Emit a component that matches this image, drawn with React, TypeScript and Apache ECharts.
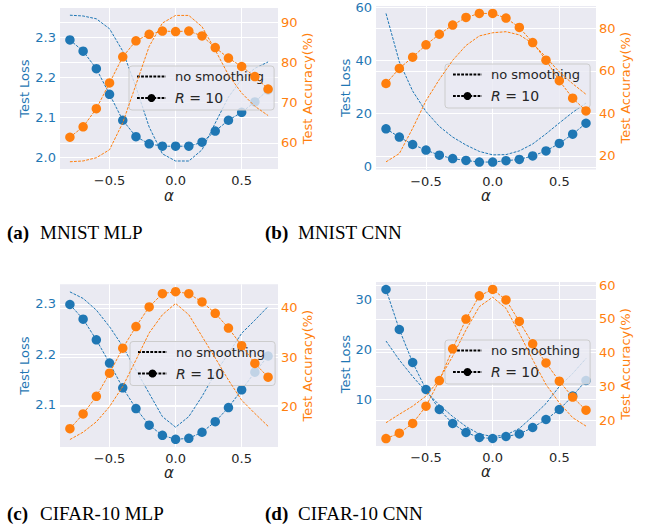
import React, { useEffect, useRef } from 'react';
import * as echarts from 'echarts';

// ---------- data ----------
const alphas = [-0.8, -0.7, -0.6, -0.5, -0.4, -0.3, -0.2, -0.1, 0.0, 0.1, 0.2, 0.3, 0.4, 0.5, 0.6, 0.7];
const xTicks = [-0.5, 0.0, 0.5];

// (a) MNIST MLP
const mnistMlpLossRaw = [2.355, 2.353, 2.346, 2.321, 2.265, 2.175, 2.075, 2.008, 1.99, 1.99, 2.018, 2.085, 2.15, 2.195, 2.222, 2.238];
const mnistMlpLossR10 = [2.293, 2.265, 2.221, 2.157, 2.092, 2.051, 2.033, 2.027, 2.027, 2.027, 2.037, 2.065, 2.092, 2.112, 2.138, 2.168];
const mnistMlpAccRaw = [55.3, 55.5, 56.3, 58.3, 65.0, 74.5, 84.0, 89.8, 91.7, 91.7, 88.9, 83.1, 76.9, 72.4, 69.1, 66.8];
const mnistMlpAccR10 = [61.4, 64.0, 68.5, 74.9, 81.4, 85.4, 87.0, 87.8, 87.7, 87.8, 86.6, 83.7, 81.1, 79.0, 76.5, 73.4];
const mnistMlpLossTicks = [2.0, 2.1, 2.2, 2.3];
const mnistMlpAccTicks = [60, 70, 80, 90];

// (b) MNIST CNN
const mnistCnnLossRaw = [57.7, 39.5, 28.5, 20.8, 15.2, 11.2, 8.2, 5.8, 4.5, 4.6, 6.0, 8.6, 12.4, 16.5, 20.5, 24.0];
const mnistCnnLossR10 = [14.3, 11.2, 8.4, 6.3, 4.4, 3.1, 2.4, 1.8, 1.8, 2.3, 2.8, 4.1, 6.0, 8.8, 12.3, 16.4];
const mnistCnnAccRaw = [17.2, 21.1, 33.0, 46.0, 56.0, 65.0, 72.0, 76.5, 78.0, 78.5, 77.0, 73.0, 66.5, 59.5, 54.0, 49.0];
const mnistCnnAccR10 = [54.1, 61.2, 66.5, 72.3, 77.3, 81.6, 85.2, 87.1, 87.1, 84.9, 80.5, 73.4, 65.1, 55.4, 47.2, 41.2];
const mnistCnnLossTicks = [0, 20, 40, 60];
const mnistCnnAccTicks = [20, 40, 60, 80];

// (c) CIFAR-10 MLP
const cifarMlpLossRaw = [2.324, 2.311, 2.288, 2.255, 2.216, 2.169, 2.123, 2.077, 2.056, 2.077, 2.117, 2.163, 2.202, 2.242, 2.268, 2.295];
const cifarMlpLossR10 = [2.299, 2.27, 2.229, 2.183, 2.134, 2.093, 2.06, 2.04, 2.032, 2.034, 2.046, 2.067, 2.095, 2.13, 2.165, 2.197];
const cifarMlpAccRaw = [13.2, 14.7, 16.8, 19.9, 24.0, 29.4, 34.9, 38.6, 40.9, 38.6, 34.2, 29.8, 25.3, 21.2, 18.5, 15.9];
const cifarMlpAccR10 = [15.4, 18.4, 22.0, 26.7, 31.8, 36.2, 40.2, 42.9, 43.3, 42.9, 41.2, 38.9, 35.9, 32.3, 28.7, 25.9];
const cifarMlpLossTicks = [2.1, 2.2, 2.3];
const cifarMlpAccTicks = [20, 30, 40];

// (d) CIFAR-10 CNN
const cifarCnnLossRaw = [21.6, 17.8, 14.5, 11.5, 8.8, 6.5, 4.5, 3.0, 2.5, 2.8, 4.1, 6.5, 9.1, 12.5, 15.1, 18.1];
const cifarCnnLossR10 = [31.9, 23.9, 17.3, 11.9, 7.9, 5.1, 3.3, 2.3, 2.1, 2.5, 3.0, 4.3, 5.9, 7.9, 10.6, 13.7];
const cifarCnnAccRaw = [19.2, 21.7, 24.1, 27.1, 32.0, 38.9, 46.7, 53.6, 56.4, 53.1, 45.7, 37.9, 30.5, 25.1, 20.7, 18.2];
const cifarCnnAccR10 = [14.5, 16.1, 19.0, 24.1, 31.7, 41.1, 49.9, 56.8, 58.7, 55.6, 49.2, 42.6, 36.9, 31.5, 26.8, 22.9];
const cifarCnnLossTicks = [10, 20, 30];
const cifarCnnAccTicks = [20, 30, 40, 50, 60];

const legendNames = ['no smoothing', 'R = 10'];
const captionTags = ['(a)', '(b)', '(c)', '(d)'];
const captionTitles = ['MNIST MLP', 'MNIST CNN', 'CIFAR-10 MLP', 'CIFAR-10 CNN'];

// ---------- styling / layout ----------
const BLUE = '#1f77b4';
const ORANGE = '#ff7f0e';
const DARK = '#262626';
const FONT = 'DejaVu Sans';
const SERIF = 'Liberation Serif';
const DASH = [2.8, 1.3];

const panels = [
  {
    lossRaw: mnistMlpLossRaw, lossR10: mnistMlpLossR10, accRaw: mnistMlpAccRaw, accR10: mnistMlpAccR10,
    lossTicks: mnistMlpLossTicks, accTicks: mnistMlpAccTicks, lossDec: 1,
    grid: { left: 60, top: 8, width: 218, height: 161 },
    lossRange: [1.970, 2.373], accRange: [53.5, 93.55],
    lossGap: 28, accGap: 22, xGap: 19,
    legend: { left: 129, top: 66 },
  },
  {
    lossRaw: mnistCnnLossRaw, lossR10: mnistCnnLossR10, accRaw: mnistCnnAccRaw, accR10: mnistCnnAccR10,
    lossTicks: mnistCnnLossTicks, accTicks: mnistCnnAccTicks, lossDec: 0,
    grid: { left: 376, top: 6, width: 220, height: 163.5 },
    lossRange: [-1.0, 60.5], accRange: [13.6, 90.6],
    lossGap: 24, accGap: 22, xGap: 18,
    legend: { left: 445, top: 64 },
  },
  {
    lossRaw: cifarMlpLossRaw, lossR10: cifarMlpLossR10, accRaw: cifarMlpAccRaw, accR10: cifarMlpAccR10,
    lossTicks: cifarMlpLossTicks, accTicks: cifarMlpAccTicks, lossDec: 1,
    grid: { left: 60, top: 284.3, width: 218, height: 162.6 },
    lossRange: [2.017, 2.339], accRange: [11.7, 44.8],
    lossGap: 28, accGap: 21, xGap: 17,
    legend: { left: 130, top: 341.5 },
  },
  {
    lossRaw: cifarCnnLossRaw, lossR10: cifarCnnLossR10, accRaw: cifarCnnAccRaw, accR10: cifarCnnAccR10,
    lossTicks: cifarCnnLossTicks, accTicks: cifarCnnAccTicks, lossDec: 0,
    grid: { left: 376, top: 282, width: 220, height: 164 },
    lossRange: [0.6, 33.4], accRange: [12.3, 60.9],
    lossGap: 24, accGap: 22, xGap: 16,
    legend: { left: 445, top: 340 },
  },
];

const captionPos = [
  { x: 7, y: 232.5 },
  { x: 265, y: 232.5 },
  { x: 7, y: 513 },
  { x: 265, y: 513 },
];

const fmtX = (v: number) => (v < 0 ? '\u2212' : '') + Math.abs(v).toFixed(1);
const pairs = (ys: number[]) => alphas.map((a, i) => [a, ys[i]]);

function buildOption() {
  const grid: any[] = [];
  const xAxis: any[] = [];
  const yAxis: any[] = [];
  const series: any[] = [];
  const legend: any[] = [];
  const graphic: any[] = [];

  // legend-only series (black samples)
  series.push({
    type: 'line', name: legendNames[0], xAxisIndex: 0, yAxisIndex: 0, data: [],
    symbol: 'none', color: '#000', lineStyle: { color: '#000', width: 1, type: DASH },
  });
  series.push({
    type: 'line', name: legendNames[1], xAxisIndex: 0, yAxisIndex: 0, data: [],
    symbol: 'circle', symbolSize: 8, color: '#000', itemStyle: { color: '#000' },
    lineStyle: { color: '#000', width: 1, type: DASH },
  });

  panels.forEach((p, i) => {
    grid.push({ ...p.grid, show: true, backgroundColor: '#EAEAF2', borderWidth: 0, containLabel: false });
    xAxis.push({
      type: 'value', gridIndex: i, min: -0.875, max: 0.775,
      name: '\u03b1', nameLocation: 'middle', nameGap: p.xGap,
      nameTextStyle: { color: DARK, fontSize: 15, fontStyle: 'italic', fontFamily: FONT },
      axisLine: { show: false },
      axisTick: { show: false, customValues: xTicks },
      axisLabel: { customValues: xTicks, color: DARK, fontSize: 13, fontFamily: FONT, margin: 5, formatter: fmtX },
      splitLine: { show: true, lineStyle: { color: '#ffffff', width: 1 } },
    });
    yAxis.push({
      type: 'value', gridIndex: i, position: 'left', min: p.lossRange[0], max: p.lossRange[1],
      name: 'Test Loss', nameLocation: 'middle', nameGap: p.lossGap, nameRotate: 90,
      nameTextStyle: { color: BLUE, fontSize: 13, fontFamily: FONT },
      axisLine: { show: false },
      axisTick: { show: false, customValues: p.lossTicks },
      axisLabel: { customValues: p.lossTicks, color: BLUE, fontSize: 13, fontFamily: FONT, margin: 4, formatter: (v: number) => v.toFixed(p.lossDec) },
      splitLine: { show: true, lineStyle: { color: '#ffffff', width: 1 } },
    });
    yAxis.push({
      type: 'value', gridIndex: i, position: 'right', min: p.accRange[0], max: p.accRange[1],
      name: 'Test Accuracy(%)', nameLocation: 'middle', nameGap: p.accGap, nameRotate: 90,
      nameTextStyle: { color: ORANGE, fontSize: 13, fontFamily: FONT },
      axisLine: { show: false },
      axisTick: { show: false, customValues: p.accTicks },
      axisLabel: { customValues: p.accTicks, color: ORANGE, fontSize: 13, fontFamily: FONT, margin: 3, formatter: (v: number) => v.toFixed(0) },
      splitLine: { show: true, lineStyle: { color: '#ffffff', width: 1 } },
    });
    const ly = 2 * i;
    const ry = 2 * i + 1;
    series.push({
      type: 'line', name: captionTitles[i] + ' loss (no smoothing)', xAxisIndex: i, yAxisIndex: ly,
      data: pairs(p.lossRaw), symbol: 'none', color: BLUE, lineStyle: { color: BLUE, width: 1, type: DASH }, z: 2,
    });
    series.push({
      type: 'line', name: captionTitles[i] + ' loss (R = 10)', xAxisIndex: i, yAxisIndex: ly,
      data: pairs(p.lossR10), symbol: 'circle', symbolSize: 9.5, color: BLUE,
      itemStyle: { color: BLUE }, lineStyle: { color: BLUE, width: 1, type: DASH }, z: 3,
    });
    series.push({
      type: 'line', name: captionTitles[i] + ' accuracy (no smoothing)', xAxisIndex: i, yAxisIndex: ry,
      data: pairs(p.accRaw), symbol: 'none', color: ORANGE, lineStyle: { color: ORANGE, width: 1, type: DASH }, z: 4,
    });
    series.push({
      type: 'line', name: captionTitles[i] + ' accuracy (R = 10)', xAxisIndex: i, yAxisIndex: ry,
      data: pairs(p.accR10), symbol: 'circle', symbolSize: 9.5, color: ORANGE,
      itemStyle: { color: ORANGE }, lineStyle: { color: ORANGE, width: 1, type: DASH }, z: 5,
    });

    legend.push({
      left: p.legend.left, top: p.legend.top, orient: 'vertical',
      selectedMode: false, itemWidth: 29, itemHeight: 10, itemGap: 8,
      padding: [4, 10, 5, 7],
      backgroundColor: 'rgba(234,234,242,0.8)', borderColor: '#cccccc', borderWidth: 1, borderRadius: 3,
      data: [
        { name: legendNames[0], itemStyle: { color: 'rgba(0,0,0,0)', borderWidth: 0 } },
        { name: legendNames[1] },
      ],
      formatter: (name: string) => (name === legendNames[1] ? '{i|R}{n| = 10}' : name),
      textStyle: {
        color: DARK, fontSize: 13, fontFamily: FONT, padding: [0, 0, 0, 4],
        rich: {
          i: { fontSize: 14, fontFamily: FONT, fontStyle: 'italic', color: DARK },
          n: { fontSize: 14, fontFamily: FONT, color: DARK },
        },
      },
    });

    const c = captionPos[i];
    graphic.push({
      type: 'text', x: c.x, y: c.y,
      style: { text: captionTags[i], fontFamily: SERIF, fontWeight: 'bold', fontSize: 19, fill: '#000', verticalAlign: 'middle', align: 'left' },
    });
    graphic.push({
      type: 'text', x: c.x + 33, y: c.y,
      style: { text: captionTitles[i], fontFamily: SERIF, fontSize: 19, fill: '#000', verticalAlign: 'middle', align: 'left' },
    });
  });

  return {
    animation: false,
    backgroundColor: '#ffffff',
    grid, xAxis, yAxis, series, legend, graphic,
  };
}

export default function App() {
  const ref = useRef<HTMLDivElement>(null);
  useEffect(() => {
    if (!ref.current) return;
    const chart = echarts.init(ref.current, undefined, { renderer: 'svg', width: 646, height: 527 });
    chart.setOption(buildOption() as any);
    return () => chart.dispose();
  }, []);
  return (
    <div
      ref={ref}
      style={{ position: 'fixed', left: 0, top: 0, width: 646, height: 527, background: '#fff' }}
    />
  );
}
